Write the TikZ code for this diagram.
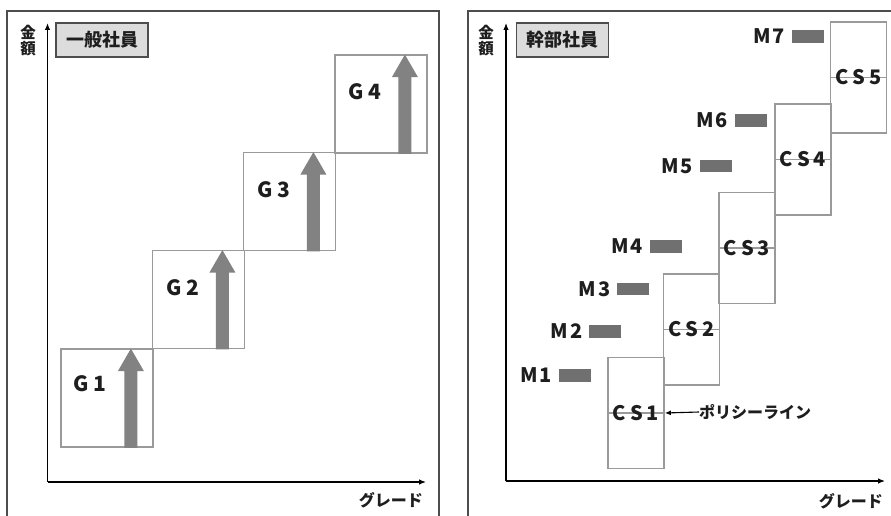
\documentclass[tikz,border=0pt]{standalone}
\usepackage{fontspec}
\setmainfont{Noto Sans CJK JP}
\usetikzlibrary{arrows.meta,calc}
\definecolor{framec}{HTML}{4D4D4D}
\definecolor{boxc}{HTML}{9A9A9A}
\definecolor{tagfill}{HTML}{DCDCDC}
\definecolor{arrowc}{HTML}{828282}
\definecolor{barc}{HTML}{707070}
\definecolor{txt}{HTML}{1E1E1E}
\tikzset{
  panel/.style={draw=framec,line width=1.8pt},
  axis/.style={draw=black,line width=1.2pt,-{Latex[length=7pt,width=5.5pt]}},
  tag/.style={draw=framec,fill=tagfill,line width=1.8pt,minimum width=92pt,minimum height=34pt,inner sep=0pt,font=\fontsize{18}{18}\selectfont\bfseries,text=txt},
  ylab/.style={align=center,inner sep=0pt,font=\fontsize{15.5}{16}\selectfont\bfseries,text=txt},
  xlab/.style={anchor=east,inner sep=0pt,font=\fontsize{16}{16}\selectfont\bfseries,text=txt},
  gbox/.style={draw=boxc,line width=1.8pt,minimum width=92pt,minimum height=98pt,inner sep=0pt},
  csbox/.style={draw=boxc,line width=1.8pt,minimum width=56pt,minimum height=111pt,inner sep=0pt},
  glab/.style={inner sep=0pt,font=\fontsize{21}{21}\selectfont\bfseries,text=txt},
  cslab/.style={inner sep=0pt,font=\fontsize{20}{20}\selectfont\bfseries,text=txt},
  mbar/.style={fill=barc,minimum width=32pt,minimum height=12.5pt,inner sep=0pt},
  mlab/.style={anchor=east,inner sep=0pt,font=\fontsize{20}{20}\selectfont\bfseries,text=txt},
  pline/.style={draw=boxc,line width=1.5pt},
  fat/.style={fill=arrowc}
}
\newcommand\fatup[1]{%
  \fill[fat] ($(#1.south east)+(-29.5,0)$) -- ($(#1.south east)+(-16.5,0)$)
    -- ($(#1.north east)+(-16.5,23)$) -- ($(#1.north east)+(-10,23)$)
    -- ($(#1.north east)+(-23,0.5)$) -- ($(#1.north east)+(-36,23)$)
    -- ($(#1.north east)+(-29.5,23)$) -- cycle;}
\begin{document}
\begin{tikzpicture}[x=1pt,y=-1pt]
\useasboundingbox (0,0) rectangle (891,516);
\clip (0,0) rectangle (891,516);
\fill[white] (0,0) rectangle (891,516);
% frames
\draw[panel] (7,530) -- (7,11) -- (439,11) -- (439,530);
\draw[panel] (468,530) -- (468,11) -- (900,11);
% ---------- left panel ----------
\coordinate (oL) at (47.5,482);
\coordinate (yL) at (47.5,23);
\coordinate (xL) at (426,482);
\draw[axis] (oL) -- (yL);
\draw[axis] (oL) -- (xL);
\node[ylab] (kinL) at (28,41) {金\\額};
\node[tag] (tagL) at (102,40) {一般社員};
\node[xlab] (grL) at (423,500) {グレード};
\node[gbox] (g1) at (107,398) {};
\node[gbox] (g2) at (198.5,299.5) {};
\node[gbox] (g3) at (289.5,201.5) {};
\node[gbox] (g4) at (381,104) {};
\fatup{g1}\fatup{g2}\fatup{g3}\fatup{g4}
\node[glab] (g1l) at (90,384) {G\hspace{4pt}1};
\node[glab] (g2l) at (183,288) {G\hspace{4pt}2};
\node[glab] (g3l) at (274,190) {G\hspace{4pt}3};
\node[glab] (g4l) at (365,92) {G\hspace{4pt}4};
% ---------- right panel ----------
\coordinate (oR) at (506,481);
\coordinate (yR) at (506,23);
\coordinate (xR) at (885,481);
\draw[axis] (oR) -- (yR);
\draw[axis] (oR) -- (xR);
\node[ylab] (kinR) at (486,41) {金\\額};
\node[tag] (tagR) at (562.5,40) {幹部社員};
\node[xlab] (grR) at (883,501) {グレード};
\node[csbox] (cs1) at (636,413) {};
\node[csbox] (cs2) at (691.5,329.5) {};
\node[csbox] (cs3) at (747,248) {};
\node[csbox] (cs4) at (803,159.5) {};
\node[csbox] (cs5) at (858.5,77.5) {};
\foreach \c in {cs1,cs2,cs3,cs4,cs5}{\draw[pline] (\c.west) -- (\c.east);}
\node[cslab] (cs1l) at (cs1) {C\hspace{4pt}S\hspace{4pt}1};
\node[cslab] (cs2l) at (cs2) {C\hspace{4pt}S\hspace{4pt}2};
\node[cslab] (cs3l) at (cs3) {C\hspace{4pt}S\hspace{4pt}3};
\node[cslab] (cs4l) at (cs4) {C\hspace{4pt}S\hspace{4pt}4};
\node[cslab] (cs5l) at (cs5) {C\hspace{4pt}S\hspace{4pt}5};
\node[anchor=west,inner sep=0pt,font=\fontsize{16}{16}\selectfont\bfseries,text=txt] (pl) at (699,412) {ポリシーライン};
\draw[black,line width=1.1pt,-{Latex[length=6pt,width=5pt]}] (pl.west) -- (cs1.east);
\node[mbar] (m1) at (574.5,375.5) {};
\node[mbar] (m2) at (605,331.5) {};
\node[mbar] (m3) at (633,289) {};
\node[mbar] (m4) at (665.5,246.5) {};
\node[mbar] (m5) at (715.5,166) {};
\node[mbar] (m6) at (750.5,120.5) {};
\node[mbar] (m7) at (807.5,36.5) {};
\foreach \i in {1,...,7}{\node[mlab] (m\i l) at ($(m\i.west)+(-6,0)$) {M\hspace{2pt}\i};}
\end{tikzpicture}
\end{document}
